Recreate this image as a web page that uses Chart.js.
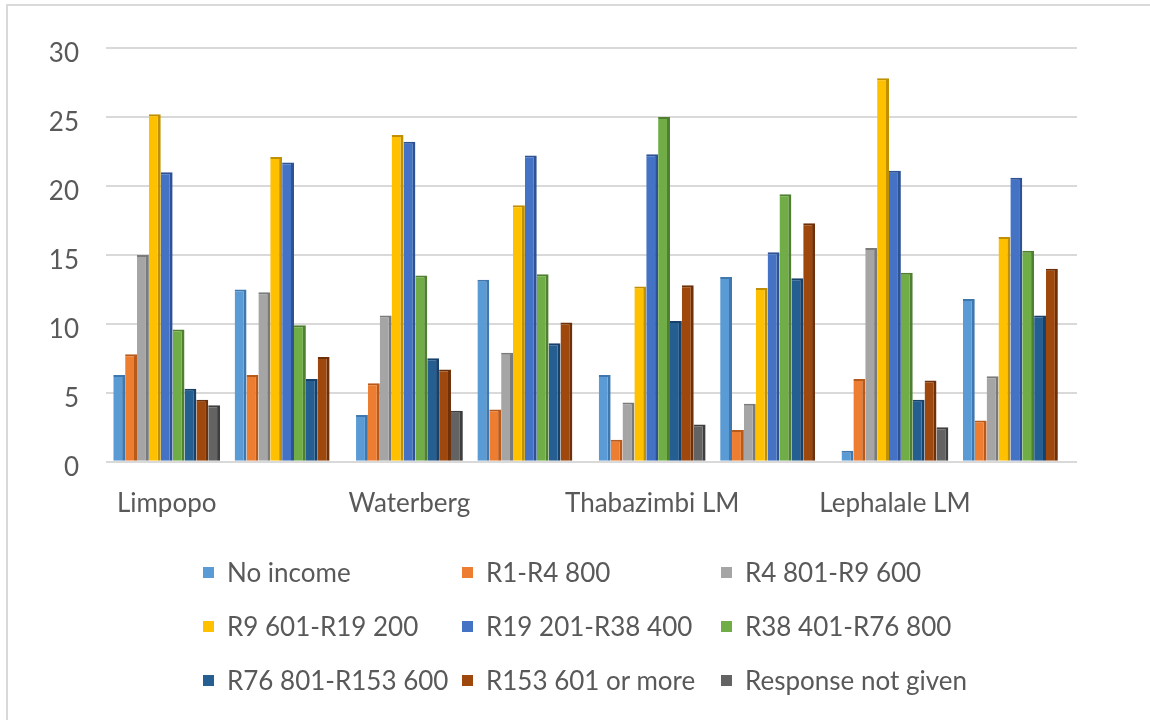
<!DOCTYPE html>
<html>
<head>
<meta charset="utf-8">
<script src="https://cdn.jsdelivr.net/npm/chart.js@4"></script>
<style>
  body { margin: 0; background: #fff; }
  #wrap { position: relative; width: 1150px; height: 720px; overflow: hidden; }
  #frame { position: absolute; left: 6px; top: 4px; width: 1160px; height: 740px; border: 2px solid #d9d9d9; box-sizing: border-box; }
  canvas { position: absolute; left: 0; top: 0; }
  #legend { position: absolute; left: 203px; top: 552px; display: grid; grid-template-columns: 259px 259px 260px; grid-auto-rows: 54px; font-family: Lato, sans-serif; font-size: 26px; color: #595959; }
  #legend div { display: flex; align-items: center; height: 40px; white-space: nowrap; }
  #legend span.box { width: 11px; height: 11px; margin-right: 13px; flex: none; }
</style>
</head>
<body>
<div id="wrap">
  <div id="frame"></div>
  <canvas id="chart" width="1150" height="720"></canvas>
  <div id="legend"></div>
</div>
<script>
const categories = ['Limpopo', 'Limpopo', 'Waterberg', 'Waterberg', 'Thabazimbi LM', 'Thabazimbi LM', 'Lephalale LM', 'Lephalale LM']
const yTicks = [0, 5, 10, 15, 20, 25, 30]

const seriesNames = ['No income', 'R1-R4 800', 'R4 801-R9 600', 'R9 601-R19 200', 'R19 201-R38 400',
  'R38 401-R76 800', 'R76 801-R153 600', 'R153 601 or more', 'Response not given']

const noIncome   = [6.3, 12.5, 3.4, 13.2, 6.3, 13.4, 0.8, 11.8]
const r1_4800    = [7.8, 6.3, 5.7, 3.8, 1.6, 2.3, 6.0, 3.0]
const r4801      = [15.0, 12.3, 10.6, 7.9, 4.3, 4.2, 15.5, 6.2]
const r9601      = [25.2, 22.1, 23.7, 18.6, 12.7, 12.6, 27.8, 16.3]
const r19201     = [21.0, 21.7, 23.2, 22.2, 22.3, 15.2, 21.1, 20.6]
const r38401     = [9.6, 9.9, 13.5, 13.6, 25.0, 19.4, 13.7, 15.3]
const r76801     = [5.3, 6.0, 7.5, 8.6, 10.2, 13.3, 4.5, 10.6]
const r153601    = [4.5, 7.6, 6.7, 10.1, 12.8, 17.3, 5.9, 14.0]
const noResponse = [4.1, 0, 3.7, 0, 2.7, 0, 2.5, 0]

const colors = ['#5B9BD5', '#ED7D31', '#A5A5A5', '#FFC000', '#4472C4', '#70AD47', '#255E91', '#9E480E', '#636363']
const sides  = ['#3E78AE', '#B85A1C', '#7A7A7A', '#C09000', '#2D5296', '#4F8030', '#17406A', '#6E3008', '#3E3E3E']

const textColor = '#595959'
const fontFamily = 'Lato, sans-serif'

const values = [noIncome, r1_4800, r4801, r9601, r19201, r38401, r76801, r153601, noResponse]

const datasets = seriesNames.map(function (name, i) {
  return {
    label: name,
    data: values[i],
    backgroundColor: colors[i],
    borderColor: sides[i],
    borderWidth: { top: 2, right: 3, left: 0, bottom: 0 },
    borderSkipped: false,
    barPercentage: 1.0,
    categoryPercentage: 0.88
  }
})

// legend in three columns, like the original
const legend = document.getElementById('legend')
seriesNames.forEach(function (name, i) {
  const item = document.createElement('div')
  const box = document.createElement('span')
  box.className = 'box'
  box.style.background = colors[i]
  item.appendChild(box)
  item.appendChild(document.createTextNode(name))
  legend.appendChild(item)
})

new Chart(document.getElementById('chart').getContext('2d'), {
  type: 'bar',
  data: { labels: categories, datasets: datasets },
  options: {
    responsive: false,
    animation: false,
    layout: { padding: { top: 48, right: 73, bottom: 183, left: 0 } },
    scales: {
      x: {
        grid: { display: false },
        border: { display: false },
        ticks: {
          autoSkip: false,
          maxRotation: 0,
          padding: 18,
          color: textColor,
          font: { family: fontFamily, size: 26 },
          callback: function (value, index) {
            return index % 2 === 0 ? categories[index] : ''
          }
        }
      },
      y: {
        min: 0,
        max: 30,
        afterBuildTicks: function (scale) {
          scale.ticks = yTicks.map(function (v) { return { value: v } })
        },
        afterFit: function (scale) { scale.width = 106 },
        grid: { color: '#d9d9d9', lineWidth: 2, drawTicks: false },
        border: { display: false },
        ticks: {
          padding: 27,
          labelOffset: 6,
          color: textColor,
          font: { family: fontFamily, size: 26 }
        }
      }
    },
    plugins: {
      legend: { display: false },
      tooltip: { enabled: false }
    }
  }
})
</script>
</body>
</html>
